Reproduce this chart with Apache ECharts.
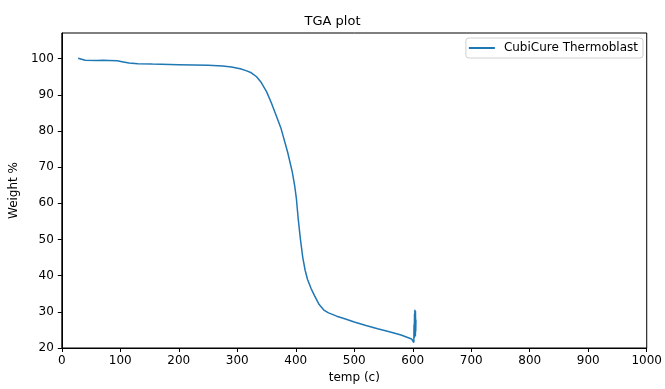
<!DOCTYPE html>
<html>
<head>
<meta charset="utf-8">
<script src="https://cdn.jsdelivr.net/npm/echarts@6/dist/echarts.min.js"></script>
<style>
  html, body { margin: 0; padding: 0; background: #fff; }
  #chart { width: 665px; height: 389px; }
</style>
</head>
<body>
<div id="chart"></div>
<script>
// Thermogravimetric trace: temperature (°C) and remaining weight (%)
// The tail end is the isothermal hold near 600 °C where the reading scatters.
const temps = [28, 29, 40, 60, 70, 80, 95, 105, 115, 130, 155, 200, 250, 275, 290, 305, 315, 324, 333, 341, 350, 358, 366, 375, 386, 394, 398, 401, 404, 408, 412, 416, 420, 426, 432, 440, 448, 456, 470, 485, 500, 520, 540, 560, 580, 598, 601,
  601.8, 602.2, 602.6, 603.0, 603.3, 603.6, 603.9, 604.2, 604.5, 604.8, 605.1, 605.4, 605.0, 604.6, 604.2, 603.8, 604.4];
const weights = [100.1, 99.6, 99.55, 99.5, 99.55, 99.5, 99.4, 99.1, 98.8, 98.6, 98.5, 98.35, 98.15, 97.95, 97.7, 97.2, 96.7, 96.1, 95.0, 93.4, 90.9, 87.9, 84.5, 80.6, 74.2, 68.7, 65.0, 61.4, 56.0, 50.0, 45.0, 41.5, 39.0, 36.5, 34.5, 32.0, 30.5, 29.7, 28.8, 28.0, 27.2, 26.2, 25.3, 24.5, 23.6, 22.5, 22.2,
  21.5, 26.5, 22.8, 29.5, 23.5, 30.6, 24.0, 29.8, 23.2, 28.4, 24.6, 27.8, 25.2, 30.2, 24.4, 28.8, 26.0];

const seriesName = 'CubiCure Thermoblast';
const chartTitle = 'TGA plot';
const xName = 'temp (c)';
const yName = 'Weight %';

const points = temps.map((t, i) => [t, weights[i]]);
const font = 'DejaVu Sans';
const lineColor = '#1f77b4';

const chart = echarts.init(document.getElementById('chart'), null, { renderer: 'canvas' });
chart.setOption({
  animation: false,
  backgroundColor: '#fff',
  title: {
    text: chartTitle,
    left: 'center',
    top: 10,
    textStyle: { fontFamily: font, fontSize: 13, fontWeight: 'normal', color: '#000' }
  },
  legend: {
    data: [{ name: seriesName, icon: 'rect' }],
    right: 22,
    top: 38,
    itemWidth: 26,
    itemHeight: 2,
    padding: [4, 5, 4, 3],
    borderColor: '#d0d0d0',
    borderWidth: 1,
    borderRadius: 3,
    textStyle: { fontFamily: font, fontSize: 12, color: '#000', padding: [0, 0, 0, 4] }
  },
  grid: {
    left: 58, right: 16, top: 33, bottom: 37,
    show: true, borderColor: '#000', borderWidth: 1
  },
  xAxis: {
    type: 'value',
    min: 0, max: 1000, interval: 100,
    name: xName,
    nameLocation: 'middle',
    nameGap: 24,
    nameTextStyle: { fontFamily: font, fontSize: 12, color: '#000' },
    axisLine: { show: true, lineStyle: { color: '#000', width: 1 } },
    axisTick: { show: true, inside: false, length: 4, lineStyle: { color: '#000' } },
    axisLabel: { fontFamily: font, fontSize: 12, color: '#000', margin: 7, formatter: v => String(v) },
    splitLine: { show: false }
  },
  yAxis: {
    type: 'value',
    min: 20, max: 107.1, interval: 10,
    name: yName,
    nameLocation: 'middle',
    nameGap: 41,
    nameRotate: 90,
    nameTextStyle: { fontFamily: font, fontSize: 12, color: '#000' },
    axisLine: { show: true, lineStyle: { color: '#000', width: 1 } },
    axisTick: { show: true, inside: false, length: 4, lineStyle: { color: '#000' } },
    axisLabel: { fontFamily: font, fontSize: 12, color: '#000', margin: 8, showMaxLabel: false },
    splitLine: { show: false }
  },
  series: [{
    name: seriesName,
    type: 'line',
    data: points,
    symbol: 'none',
    smooth: false,
    lineStyle: { color: lineColor, width: 1.5 },
    itemStyle: { color: lineColor }
  }]
});
</script>
</body>
</html>
